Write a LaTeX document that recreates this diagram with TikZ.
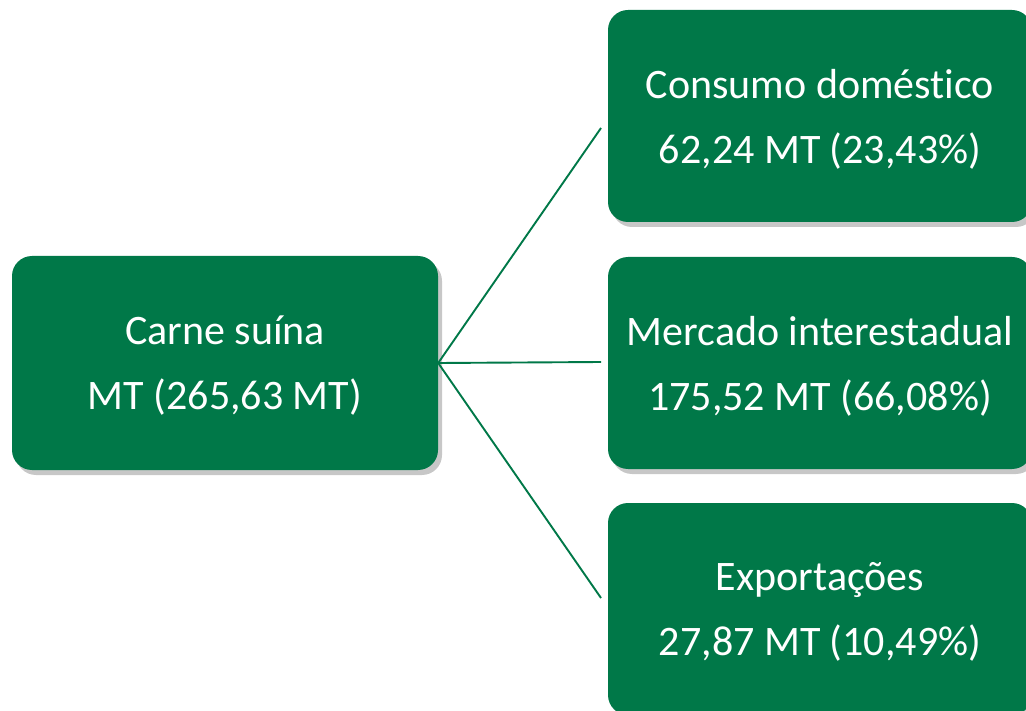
\documentclass[tikz,border=0pt]{standalone}
\usepackage{fontspec}
\setmainfont[Ligatures=NoCommon]{Carlito}
\usetikzlibrary{shadows}
\definecolor{boxgreen}{RGB}{0,120,72}
\begin{document}
\begin{tikzpicture}[x=1pt,y=-1pt,
  gbox/.style={fill=boxgreen, rounded corners=20pt, text=white, align=center,
    font=\fontsize{42}{65}\selectfont, inner sep=0pt, text depth=0pt,
    drop shadow={shadow xshift=4pt, shadow yshift=-5pt, fill=black, opacity=0.22}},
  link/.style={draw=boxgreen, line width=1.9pt}]
\useasboundingbox (0,0) rectangle (1026,711);
\clip (0,0) rectangle (1026,711);
\node[gbox, minimum width=426pt, minimum height=214pt] (src) at (225,363) {Carne suína\\MT (265,63 MT)};
\node[gbox, minimum width=424pt, minimum height=212pt] (a) at (820,116) {Consumo doméstico\\62,24 MT (23,43\%)};
\node[gbox, minimum width=424pt, minimum height=212pt] (b) at (820,363) {Mercado interestadual\\175,52 MT (66,08\%)};
\node[gbox, minimum width=424pt, minimum height=212pt] (c) at (820,609) {Exportações\\27,87 MT (10,49\%)};
\coordinate (ea) at (601,128);
\coordinate (eb) at (601,362);
\coordinate (ec) at (601,598);
\draw[link] (src.east) -- (ea);
\draw[link] (src.east) -- (eb);
\draw[link] (src.east) -- (ec);
\end{tikzpicture}
\end{document}
